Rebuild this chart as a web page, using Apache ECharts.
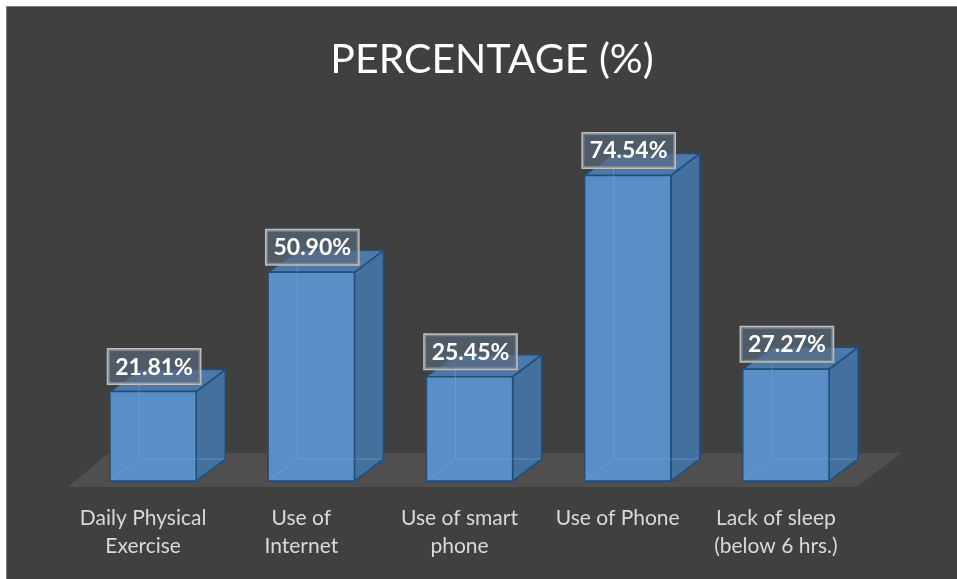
<!DOCTYPE html>
<html>
<head>
<meta charset="utf-8">
<script src="https://cdn.jsdelivr.net/npm/echarts@6/dist/echarts.min.js"></script>
<style>
html,body{margin:0;padding:0;background:#ffffff;width:957px;height:579px;overflow:hidden;}
#bg{position:absolute;left:6px;top:6px;right:0;bottom:0;background:#404040;border-left:1.5px solid #7c7c7c;border-top:1.5px solid #7c7c7c;}
#chart{position:absolute;left:0;top:0;width:957px;height:579px;}
</style>
</head>
<body>
<div id="bg"></div>
<div id="chart"></div>
<script>
const categories = ["Daily Physical\nExercise", "Use of\nInternet", "Use of smart\nphone", "Use of Phone", "Lack of sleep\n(below 6 hrs.)"];
const values = [21.81, 50.90, 25.45, 74.54, 27.27];
const valueLabels = ["21.81%", "50.90%", "25.45%", "74.54%", "27.27%"];
const titleText = "PERCENTAGE (%)";

const chart = echarts.init(document.getElementById('chart'), null, {renderer: 'canvas'});

function barItem(params, api) {
  const idx = api.value(0);
  const v = api.value(1);
  const top = api.coord([idx, v]);
  const base = api.coord([idx, 0]);
  const band = api.size([1, 0])[0];
  const w = band * 0.545;
  const dx = band * 0.184, dy = band * 0.139;
  const cx = top[0];
  const l = cx - w / 2, r = cx + w / 2, t = top[1], b = base[1];
  const edge = '#1f4e79';
  const children = [
    {type: 'polygon', shape: {points: [[r, t], [r + dx, t - dy], [r + dx, b - dy], [r, b]]},
     style: {fill: '#44709d', stroke: edge, lineWidth: 1.5}},
    {type: 'polygon', shape: {points: [[l, t], [l + dx, t - dy], [r + dx, t - dy], [r, t]]},
     style: {fill: '#4b79aa', stroke: edge, lineWidth: 1.5}},
    {type: 'rect', shape: {x: l, y: t, width: w, height: b - t},
     style: {fill: '#5a8ec6', stroke: edge, lineWidth: 1.5}},
    {type: 'polyline', shape: {points: [[l + dx, t - dy + 1], [l + dx, b - dy], [r + dx - 1, b - dy]]},
     style: {stroke: 'rgba(110,170,230,0.45)', lineWidth: 1, fill: null}},
    {type: 'line', shape: {x1: l + 1, y1: b - 1, x2: l + dx, y2: b - dy},
     style: {stroke: 'rgba(110,170,230,0.45)', lineWidth: 1}},
    {type: 'text', x: cx + 1, y: t - 8,
     style: {text: valueLabels[idx], align: 'center', verticalAlign: 'bottom',
       fill: '#ffffff', font: 'bold 23px Lato', backgroundColor: 'rgba(88,104,124,0.68)',
       borderColor: '#bdbdbd', borderWidth: 1.5, padding: [6, 7, 5, 7]}}
  ];
  return {type: 'group', children: children};
}

function floorItem(params, api) {
  const band = api.size([1, 0])[0];
  const first = api.coord([0, 0]);
  const last = api.coord([categories.length - 1, 0]);
  const yF = first[1] + 6, yB = first[1] - 28;
  const pts = [
    [first[0] - band * 0.54, yF],
    [last[0] + band * 0.45, yF],
    [last[0] + band * 0.73, yB],
    [first[0] - band * 0.28, yB]
  ];
  return {type: 'polygon', shape: {points: pts}, style: {fill: '#504e4f'}};
}

const option = {
  backgroundColor: 'transparent',
  animation: false,
  title: {
    text: titleText, left: 487, top: 34, textAlign: 'center',
    textStyle: {color: '#ffffff', fontFamily: 'Lato', fontWeight: 'normal', fontSize: 41}
  },
  grid: {left: 74, right: 92, top: 153, bottom: 98},
  xAxis: {
    type: 'category', data: categories,
    axisLine: {show: false}, axisTick: {show: false}, splitLine: {show: false},
    axisLabel: {interval: 0, color: '#d9d9d9', fontFamily: 'Lato', fontSize: 21, lineHeight: 28, margin: 23, padding: [0, 20, 0, 0]}
  },
  yAxis: {type: 'value', min: 0, max: 80, show: false},
  series: [
    {type: 'custom', renderItem: floorItem, data: [[0, 0]], silent: true, z: 1},
    {type: 'custom', renderItem: barItem, data: values.map((v, i) => [i, v]), z: 2}
  ]
};
chart.setOption(option);
</script>
</body>
</html>
